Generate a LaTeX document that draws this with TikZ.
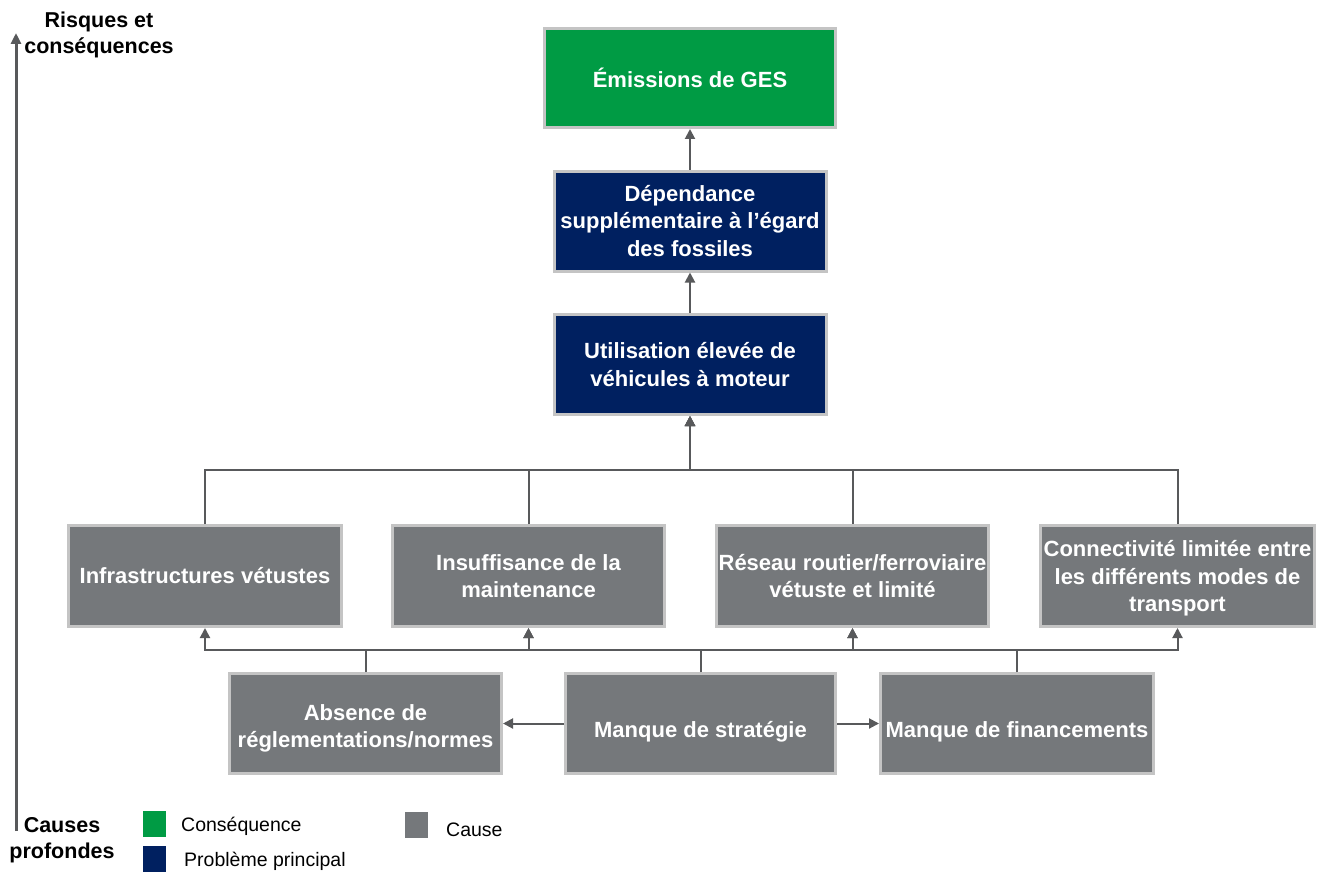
\documentclass[tikz,border=0pt]{standalone}
\usepackage{fontspec}
\setmainfont{Liberation Sans}
\usetikzlibrary{arrows.meta}
\definecolor{gesgreen}{RGB}{0,155,68}
\definecolor{navyblue}{RGB}{0,32,96}
\definecolor{causegray}{RGB}{117,120,123}
\definecolor{framegray}{RGB}{196,196,196}
\definecolor{linkgray}{RGB}{88,89,91}
\begin{document}
\begin{tikzpicture}[x=1pt,y=-1pt,
  box/.style={draw=framegray, line width=3pt, text=white, align=center,
    font=\bfseries\fontsize{22}{27.5}\selectfont,
    minimum width=272pt, minimum height=100pt, inner sep=0pt},
  conseq/.style={box, fill=gesgreen},
  probleme/.style={box, fill=navyblue},
  cause/.style={box, fill=causegray},
  link/.style={draw=linkgray, line width=2pt},
  arr/.style={link, -{Triangle[length=10pt,width=10pt]}},
  axisline/.style={draw=linkgray, line width=3pt, -{Triangle[length=11pt,width=10pt]}},
  axislabel/.style={align=center, font=\bfseries\fontsize{21.5}{26.5}\selectfont},
  legendtext/.style={anchor=west, font=\fontsize{19.5}{22}\selectfont, inner sep=0pt},
  swatch/.style={minimum width=23pt, minimum height=26pt, inner sep=0pt}]
\useasboundingbox (0,0) rectangle (1317,872);

% vertical axis from root causes up to risks
\coordinate (axbot) at (16,831);
\coordinate (axtop) at (16,33);
\draw[axisline] (axbot) -- (axtop);
\node[axislabel] (risques) at (99,35) {Risques et\\conséquences};
\node[axislabel] (causes) at (62,840) {Causes\\profondes};

% consequence and main problems
\node[conseq, minimum width=291pt, minimum height=99pt] (ges) at (690,78) {Émissions de GES};
\node[probleme] (dep) at (690,221) {Dépendance\\supplémentaire à l’égard\\des fossiles};
\node[probleme] (util) at (690,364.5) {Utilisation élevée de\\véhicules à moteur};

% direct causes
\node[cause, minimum width=273pt, minimum height=101pt] (infra) at (205,576) {Infrastructures vétustes};
\node[cause, minimum height=101pt] (insuff) at (528.5,576) {Insuffisance de la\\maintenance};
\node[cause, minimum height=101pt] (reseau) at (852.5,576) {Réseau routier/ferroviaire\\vétuste et limité};
\node[cause, minimum width=274pt, minimum height=101pt] (connect) at (1177.5,576) {\rule{0pt}{21pt}Connectivité limitée entre\\les différents modes de\\transport};

% root causes (text sits slightly low in these boxes)
\node[cause] (absence) at (365.5,723.5) {\rule{0pt}{26pt}Absence de\\réglementations/normes};
\node[cause, minimum width=270pt] (strat) at (700.5,723.5) {\rule{0pt}{33pt}Manque de stratégie};
\node[cause, minimum width=273pt] (fin) at (1017,723.5) {\rule{0pt}{33pt}Manque de financements};

% upward chain
\draw[arr] (dep) -- (ges);
\draw[arr] (util) -- (dep);

% direct causes feed the main problem through a common bus
\coordinate (topbus) at (0,470);
\foreach \n in {infra,insuff,reseau,connect}
  \draw[arr] (\n.north) |- (util.south |- topbus) -- (util.south);

% root causes feed the direct causes through a lower bus
\coordinate (lowbus) at (0,650);
\draw[arr] (absence.north) |- (infra.south |- lowbus) -- (infra.south);
\draw[arr] (absence.north) |- (insuff.south |- lowbus) -- (insuff.south);
\draw[arr] (strat.north) |- (insuff.south |- lowbus) -- (insuff.south);
\draw[arr] (strat.north) |- (reseau.south |- lowbus) -- (reseau.south);
\draw[arr] (fin.north) |- (reseau.south |- lowbus) -- (reseau.south);
\draw[arr] (fin.north) |- (connect.south |- lowbus) -- (connect.south);

% strategy leads to the two other root causes
\draw[arr] (strat.west) -- (absence.east);
\draw[arr] (strat.east) -- (fin.west);

% legend
\node[swatch, fill=gesgreen] (lg1) at (154,824) {};
\node[swatch, fill=navyblue] (lg2) at (154,858.5) {};
\node[swatch, fill=causegray] (lg3) at (416.5,825) {};
\node[legendtext] (lt1) at (181,826) {Conséquence};
\node[legendtext] (lt2) at (184,861) {Problème principal};
\node[legendtext] (lt3) at (446,830) {Cause};
\end{tikzpicture}
\end{document}
